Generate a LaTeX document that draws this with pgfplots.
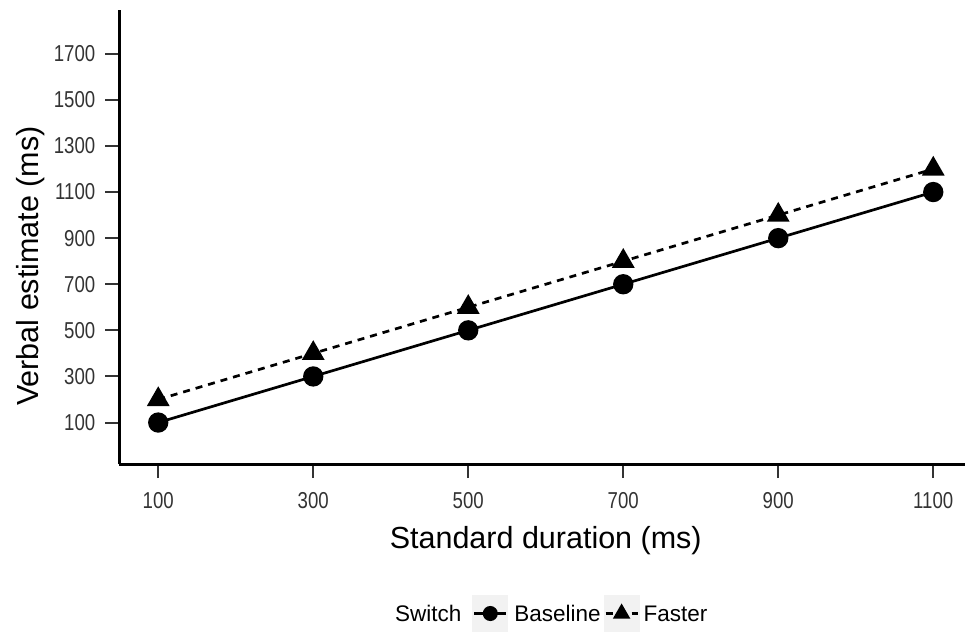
\documentclass[border=0pt]{standalone}
\usepackage{pgfplots}
\pgfplotsset{compat=1.18}
\usepackage{fontspec}
\setmainfont{Liberation Sans}
\newfontfamily\ticknarrow[FakeStretch=0.81]{Liberation Sans}
\definecolor{keygrey}{HTML}{F2F2F2}
\definecolor{tickgrey}{HTML}{333333}
\pgfplotsset{
  keyimg/.style={legend image code/.code={
    \fill[keygrey, draw=none, solid] (0pt,-18.5pt) rectangle (36pt,18.5pt);
    \draw[mark repeat=2, mark phase=2, mark options={solid, fill=black, scale=0.7}]
      plot coordinates {(2pt,0pt)(18pt,0pt)(34pt,0pt)};
  }}
}
\begin{document}
\begin{tikzpicture}
\path[use as bounding box] (-119.5pt,-169pt) rectangle (845.5pt,464pt);
\begin{axis}[
  at={(0pt,0pt)}, anchor=south west,
  scale only axis, width=852.5pt, height=454pt,
  xmin=50, xmax=1150, ymin=-80, ymax=1890,
  axis x line=bottom, axis y line=left,
  axis line style={black, line width=3pt},
  every inner x axis line/.append style={-},
  every inner y axis line/.append style={-},
  every outer x axis line/.append style={-},
  every outer y axis line/.append style={-},
  xtick={100,300,500,700,900,1100},
  ytick={100,300,500,700,900,1100,1300,1500,1700},
  xtick align=outside, ytick align=outside,
  major tick length=14pt,
  every tick/.append style={tickgrey, line width=2pt},
  every major tick/.append style={tickgrey, line width=2pt},
  xtick style={tickgrey, line width=2pt},
  ytick style={tickgrey, line width=2pt},
  every x tick/.append style={tickgrey, line width=2pt},
  every y tick/.append style={tickgrey, line width=2pt},
  /pgf/number format/assume math mode=true,
  /pgf/number format/1000 sep={},
  tick label style={font=\ticknarrow\fontsize{23pt}{24pt}\selectfont, text=tickgrey, inner sep=0pt},
  xticklabel style={anchor=north, yshift=-14pt},
  yticklabel style={anchor=east, xshift=-10pt},
  xlabel={Standard duration (ms)},
  ylabel={Verbal estimate (ms)},
  label style={font=\fontsize{30.5pt}{31pt}\selectfont},
  xlabel style={at={(axis description cs:0.5,0)}, anchor=center, yshift=-77pt},
  ylabel style={at={(axis description cs:0,0.436)}, anchor=center, yshift=89pt},
  legend columns=-1,
  legend cell align=left,
  legend style={at={(axis description cs:0.3232,0)}, anchor=west, yshift=-149.5pt,
    draw=none, fill=none, inner sep=0pt, outer sep=0pt,
    nodes={inner sep=0pt, text depth=0pt, font=\fontsize{22.5pt}{23pt}\selectfont},
    /tikz/column 1/.style={column sep=0pt},
    /tikz/column 2/.style={column sep=11pt},
    /tikz/column 3/.style={column sep=6pt},
    /tikz/column 4/.style={column sep=3pt},
    /tikz/column 5/.style={column sep=4pt}},
]
\addlegendimage{empty legend}
\addlegendentry{Switch}
\addplot[black, line width=2.7pt, mark=*, mark size=8.8pt, mark options={solid, fill=black}, keyimg]
  coordinates {(100,100) (300,300) (500,500) (700,700) (900,900) (1100,1100)};
\addlegendentry{Baseline}
\addplot[black, line width=2.7pt, dash pattern=on 7pt off 6pt, mark=triangle*, mark size=10.5pt, mark options={solid, fill=black}, keyimg]
  coordinates {(100,200) (300,400) (500,600) (700,800) (900,1000) (1100,1200)};
\addlegendentry{Faster}
\end{axis}
\end{tikzpicture}
\end{document}
